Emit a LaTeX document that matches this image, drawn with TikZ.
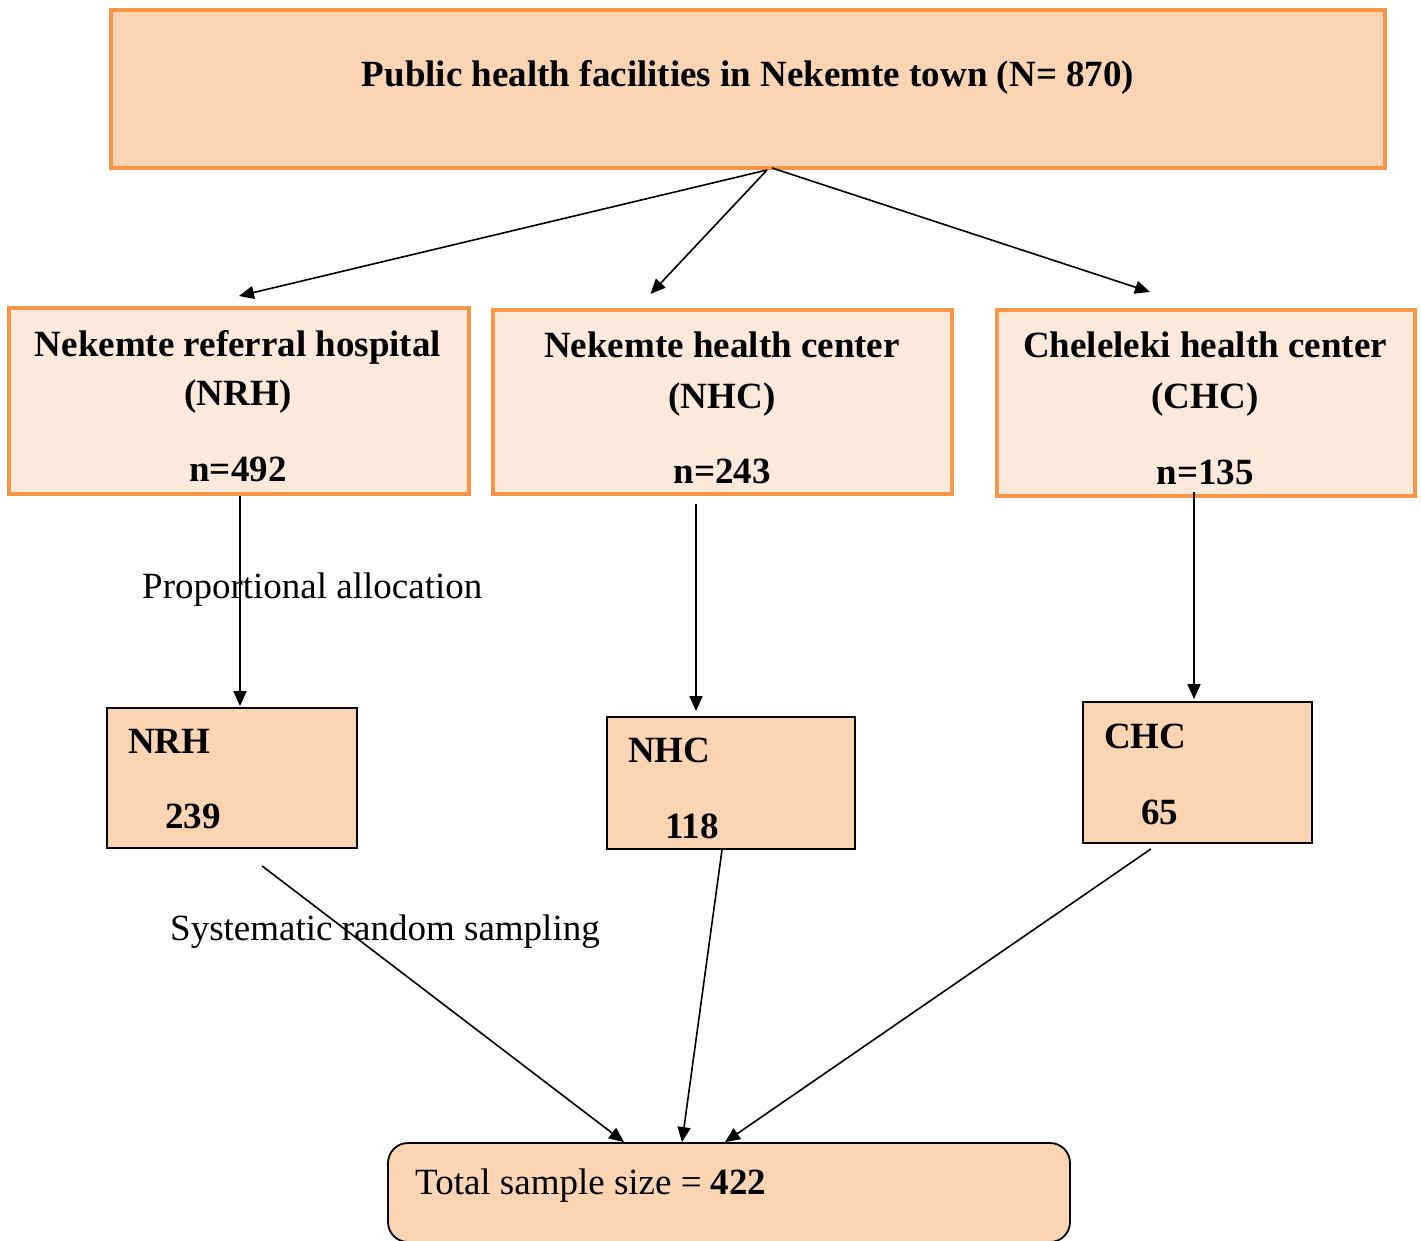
\documentclass[tikz,border=0pt]{standalone}
\usepackage{fontspec}
\setmainfont{Liberation Serif}
\usetikzlibrary{arrows.meta}
\definecolor{peach}{HTML}{FBD4B4}
\definecolor{lightpeach}{HTML}{FDE9D9}
\definecolor{orangeline}{HTML}{F79646}
\tikzset{
  topbox/.style={draw=orangeline, line width=4pt, fill=peach, inner sep=0pt},
  midbox/.style={draw=orangeline, line width=4pt, fill=lightpeach, inner sep=0pt},
  smallbox/.style={draw=black, line width=1.8pt, fill=peach, inner sep=0pt},
  totalbox/.style={draw=black, line width=1.8pt, fill=peach, inner sep=0pt, rounded corners=20pt},
  txt/.style={font=\fontsize{37}{44}\selectfont, inner sep=0pt},
  btxt/.style={font=\fontsize{37}{44}\selectfont\bfseries, inner sep=0pt},
  arr/.style={line width=1.6pt, -{Triangle[length=15pt,width=13pt]}},
}
\begin{document}
\begin{tikzpicture}[x=1pt,y=-1pt]
\useasboundingbox (0,0) rectangle (1421,1241);
% top box
\node[topbox, minimum width=1274pt, minimum height=158pt] (top) at (748,89) {};
\node[btxt, anchor=base] (topT) at (748,87) {Public health facilities in Nekemte town (N= 870)};
% level 2 boxes
\node[midbox, minimum width=460pt, minimum height=186pt] (nrh) at (239,401) {};
\node[midbox, minimum width=459pt, minimum height=184pt] (nhc) at (722.5,402) {};
\node[midbox, minimum width=418pt, minimum height=186pt] (chc) at (1206,403) {};
\node[btxt, anchor=base] (nrhA) at (238,356) {Nekemte referral hospital};
\node[btxt, anchor=base] (nrhB) at (238,405) {(NRH)};
\node[btxt, anchor=base] (nrhC) at (238,481) {n=492};
\node[btxt, anchor=base] (nhcA) at (722,357) {Nekemte health center};
\node[btxt, anchor=base] (nhcB) at (722,408) {(NHC)};
\node[btxt, anchor=base] (nhcC) at (722,483) {n=243};
\node[btxt, anchor=base] (chcA) at (1205,357) {Cheleleki health center};
\node[btxt, anchor=base] (chcB) at (1205,408) {(CHC)};
\node[btxt, anchor=base] (chcC) at (1205,484) {n=135};
% small boxes
\node[smallbox, minimum width=250pt, minimum height=140pt] (snrh) at (232,778) {};
\node[smallbox, minimum width=248pt, minimum height=132pt] (snhc) at (731,783) {};
\node[smallbox, minimum width=229pt, minimum height=141pt] (schc) at (1197.5,772.5) {};
\node[btxt, anchor=base west] (snrhA) at (128,753) {NRH};
\node[btxt, anchor=base west] (snrhB) at (165,828) {239};
\node[btxt, anchor=base west] (snhcA) at (628,762) {NHC};
\node[btxt, anchor=base west] (snhcB) at (665,838) {118};
\node[btxt, anchor=base west] (schcA) at (1104,748) {CHC};
\node[btxt, anchor=base west] (schcB) at (1141,824) {65};
% total box
\node[totalbox, minimum width=682pt, minimum height=99pt] (total) at (729,1192.5) {};
\node[txt, anchor=base west] (totalT) at (415,1194) {Total sample size = \textbf{422}};
% labels
\node[txt, anchor=base west] (lab1) at (142,598) {Proportional allocation};
\node[txt, anchor=base west] (lab2) at (170,940) {Systematic random sampling};
% arrows top -> level 2
\draw[arr] ([xshift=19pt]top.south) -- ([yshift=10pt]nrh.north);
\draw[arr] ([xshift=19pt]top.south) -- ([xshift=-72pt,yshift=14pt]nhc.north);
\draw[arr] ([xshift=24pt,yshift=2pt]top.south) -- ([xshift=-56pt,yshift=16pt]chc.north);
% level 2 -> small boxes
\draw[arr] ([xshift=1pt]nrh.south) -- ([xshift=8pt,yshift=1pt]snrh.north);
\draw[arr] ([xshift=-26.5pt,yshift=-8pt]nhc.south) -- ([xshift=-35pt,yshift=5pt]snhc.north);
\draw[arr] ([xshift=-12pt,yshift=6pt]chc.south) -- ([xshift=-3.5pt,yshift=2pt]schc.north);
% small boxes -> total
\draw[arr] ([xshift=30pt,yshift=-17pt]snrh.south) -- ([xshift=-105pt]total.north);
\draw[arr] ([xshift=-9pt]snhc.south) -- ([xshift=-47pt]total.north);
\draw[arr] ([xshift=-46.5pt,yshift=-5pt]schc.south) -- ([xshift=-4pt]total.north);
\end{tikzpicture}
\end{document}
